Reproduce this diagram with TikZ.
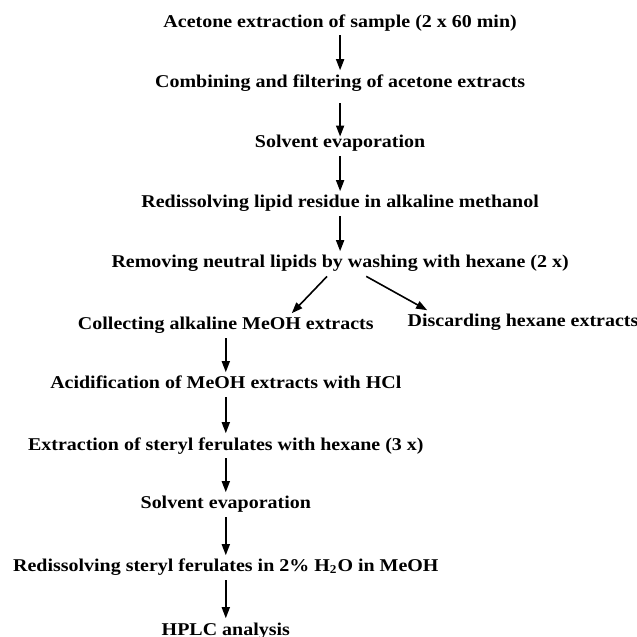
\documentclass[tikz,border=0pt]{standalone}
\usepackage{fontspec}
\setmainfont{Liberation Serif}[FakeStretch=1.11]
\usepackage{tikz}
\usetikzlibrary{arrows.meta}

\begin{document}
\begin{tikzpicture}[
  font=\fontsize{9}{11}\selectfont\bfseries,
  stage/.style={inner sep=2pt, text height=6.2pt, text depth=2pt, anchor=base},
  arr/.style={-{Triangle[length=5.5pt,width=4pt]}, thick},
]
\useasboundingbox (0,0) rectangle (11.2,-11.2);

%% ---- main column ----
\node[stage] (acetone) at (5.98, -0.475) {Acetone extraction of sample (2 x 60 min)};
\node[stage] (combine) at (5.98, -1.530) {Combining and filtering of acetone extracts};
\node[stage] (evap)    at (5.98, -2.602) {Solvent evaporation};
\node[stage] (redis)   at (5.98, -3.657) {Redissolving lipid residue in alkaline methanol};
\node[stage] (remove)  at (5.98, -4.712) {Removing neutral lipids by washing with hexane (2 x)};

%% ---- branch ----
\node[stage] (collect) at (3.97, -5.802) {Collecting alkaline MeOH extracts};
\node[stage, anchor=base west] (discard) at (7.09, -5.749) {Discarding hexane extracts};

%% ---- left column ----
\node[stage] (acidify) at (3.97, -6.839) {Acidification of MeOH extracts with HCl};
\node[stage] (extract) at (3.97, -7.912) {Extraction of steryl ferulates with hexane (3 x)};
\node[stage] (evapb)   at (3.97, -8.949) {Solvent evaporation};
\node[stage] (redisb)  at (3.97, -10.057) {Redissolving steryl ferulates in 2\% H\textsubscript{2}O in MeOH};
\node[stage] (hplc)    at (3.97, -11.165) {HPLC analysis};

%% ---- arrows ----
\draw[arr] (acetone) -- (combine);
\draw[arr, shorten <=4pt, shorten >=-2.7pt] (combine) -- (evap);
\draw[arr] (evap) -- (redis);
\draw[arr] (redis) -- (remove);
\draw[arr] ([xshift=-0.23cm]remove.south) -- ([xshift=1.16cm]collect.north);
\draw[arr] ([xshift=0.46cm]remove.south) -- ([xshift=0.42cm]discard.north west);
\draw[arr] (collect) -- (acidify);
\draw[arr] (acidify) -- (extract);
\draw[arr] (extract) -- (evapb);
\draw[arr] (evapb) -- (redisb);
\draw[arr] (redisb) -- (hplc);

\end{tikzpicture}
\end{document}
